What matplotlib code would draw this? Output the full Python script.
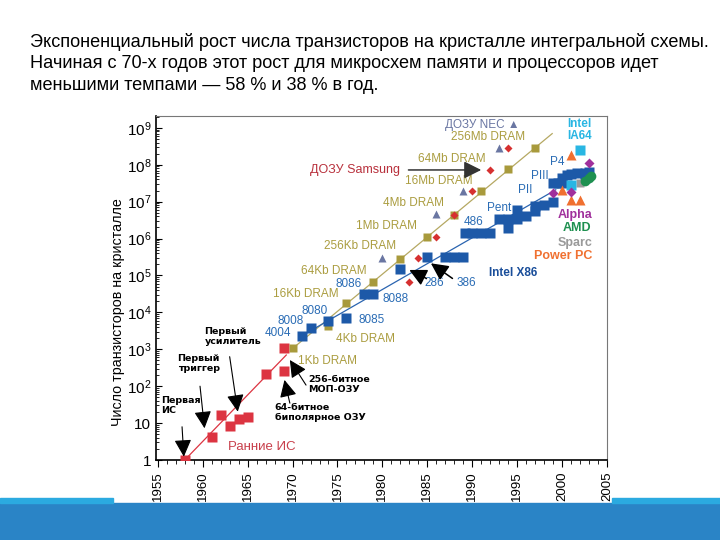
import math

import matplotlib
matplotlib.use("Agg")
import matplotlib.pyplot as plt
from matplotlib.patches import Rectangle
from matplotlib.ticker import FixedLocator, FuncFormatter, LogLocator, NullFormatter

plt.rcParams["font.family"] = ["Liberation Sans", "DejaVu Sans"]
plt.rcParams["mathtext.fontset"] = "custom"
plt.rcParams["mathtext.rm"] = "Liberation Sans"
plt.rcParams["mathtext.it"] = "Liberation Sans:italic"
plt.rcParams["mathtext.bf"] = "Liberation Sans:bold"

TITLE = ("Экспоненциальный рост числа транзисторов на кристалле интегральной схемы.\n"
         "Начиная с 70-х годов этот рост для микросхем памяти и процессоров идет\n"
         "меньшими темпами — 58 % и 38 % в год.")

# early integrated circuits
early_years = [1958, 1961, 1962, 1963, 1964, 1965, 1967, 1969, 1969]
early_counts = [1, 4.3, 16.6, 8.3, 12.9, 14.4, 214, 1100, 263]
early_trend_years = [1958, 1969.3]
early_trend_counts = [1, 700]

# DRAM generations
dram_years = [1970, 1974, 1976, 1979, 1982, 1985, 1988, 1991, 1994, 1997]
dram_counts = [1.07e3, 4.3e3, 1.8e4, 6.8e4, 2.75e5, 1.1e6, 4.4e6, 1.9e7, 7.6e7, 2.8e8]
dram_trend_years = [1970, 1998.9]
dram_trend_counts = [1.05e3, 7.0e8]

# Samsung / NEC DRAM
samsung_years = [1983, 1984, 1986, 1988, 1990, 1992, 1994]
samsung_counts = [6.8e4, 3.0e5, 1.1e6, 4.4e6, 1.9e7, 7.2e7, 2.8e8]
nec_years = [1980, 1986, 1989, 1993]
nec_counts = [3.0e5, 4.7e6, 1.9e7, 2.8e8]

# Intel x86
x86_years = [1971, 1972, 1974, 1976, 1978, 1979, 1982, 1985, 1987, 1988, 1989,
             1989.2, 1990, 1991, 1992,
             1993, 1994, 1994, 1995, 1995, 1996, 1997, 1997, 1998, 1999,
             1999, 1999.6, 2000, 2000.5, 2001, 2001.7, 2002.5, 2003, 2002.5, 2000]
x86_counts = [2.3e3, 3.8e3, 6.0e3, 7.1e3, 3.2e4, 3.2e4, 1.5e5, 3.2e5, 3.2e5, 3.2e5, 3.2e5,
              1.4e6, 1.4e6, 1.4e6, 1.4e6,
              3.5e6, 3.5e6, 1.9e6, 6.0e6, 3.5e6, 4.2e6, 7.5e6, 5.5e6, 8.1e6, 1.0e7,
              3.2e7, 3.2e7, 4.4e7, 5.2e7, 5.5e7, 5.9e7, 5.9e7, 6.5e7, 4.3e7, 3.2e7]
x86_trend_years = [1971, 1999.3]
x86_trend_counts = [2.3e3, 2.1e7]

# other processors
alpha_years = [1999, 2001, 2003]
alpha_counts = [1.7e7, 1.8e7, 1.1e8]
ia64_years = [2001, 2002]
ia64_counts = [2.8e7, 2.5e8]
ppc_years = [2000, 2001, 2001, 2002]
ppc_counts = [2.1e7, 1.9e8, 1.1e7, 1.1e7]
amd_years = [2002.5, 2003, 2003.2]
amd_counts = [3.7e7, 4.4e7, 5.0e7]
sparc_years = [2002]
sparc_counts = [3.2e7]

RED = "#dc3441"
OLIVE = "#a89a3c"
BLUE = "#1d59a8"
LBLUE = "#2a6cb5"
DRED = "#b8303c"
SLATE = "#6a76a2"

fig = plt.figure(figsize=(7.2, 5.4), dpi=100)
fig.text(30 / 720, 1 - 33 / 540, TITLE, fontsize=13.05, va="top", ha="left",
         linespacing=1.33)

ax = fig.add_axes([156 / 720, 80 / 540, 451 / 720, 344 / 540])
ax.set_yscale("log")
ax.set_xlim(1954.8, 2005)
ax.set_ylim(1, 2.1e9)

ax.plot(early_trend_years, early_trend_counts, color=RED, lw=0.9, zorder=2)
ax.plot(dram_trend_years, dram_trend_counts, color="#b5a862", lw=0.9, zorder=2)
ax.plot(x86_trend_years, x86_trend_counts, color="#2a64b0", lw=0.9, zorder=2)

ax.plot(early_years, early_counts, "s", color=RED, ms=6.5, mec="none", zorder=3)
ax.plot(dram_years, dram_counts, "s", color=OLIVE, ms=6, mec="none", zorder=3)
ax.plot(x86_years, x86_counts, "s", color=BLUE, ms=7, mec="none", zorder=3)
ax.plot(samsung_years, samsung_counts, "D", color="#d63030", ms=4.5, mec="none", zorder=4)
ax.plot(nec_years, nec_counts, "^", color=SLATE, ms=6, mec="none", zorder=4)
ax.plot(sparc_years, sparc_counts, "s", color="#9a9a9a", ms=6, mec="none", zorder=4)
ax.plot(amd_years, amd_counts, "o", color="#1e9050", ms=7, mec="none", zorder=4)
ax.plot(ia64_years, ia64_counts, "s", color="#29b6e3", ms=6.5, mec="none", zorder=4)
ax.plot(ppc_years, ppc_counts, "^", color="#f07030", ms=6.5, mec="none", zorder=4)
ax.plot(alpha_years, alpha_counts, "D", color="#a0309c", ms=5, mec="none", zorder=5)

ARROW = "-|>,head_length=0.7,head_width=0.35"

# DRAM labels
dram_kw = dict(color="#ab9d40", fontsize=8.5, va="center")
ax.text(1970.6, 10**2.68, "1Kb DRAM", ha="left", **dram_kw)
ax.text(1974.8, 10**3.27, "4Kb DRAM", ha="left", **dram_kw)
ax.text(1975.1, 10**4.5, "16Kb DRAM", ha="right", **dram_kw)
ax.text(1978.2, 10**5.13, "64Kb DRAM", ha="right", **dram_kw)
ax.text(1981.5, 10**5.8, "256Kb DRAM", ha="right", **dram_kw)
ax.text(1983.9, 10**6.35, "1Mb DRAM", ha="right", **dram_kw)
ax.text(1986.9, 10**6.96, "4Mb DRAM", ha="right", **dram_kw)
ax.text(1990.0, 10**7.57, "16Mb DRAM", ha="right", **dram_kw)
ax.text(1991.5, 10**8.15, "64Mb DRAM", ha="right", **dram_kw)
ax.text(1995.9, 10**8.75, "256Mb DRAM", ha="right", **dram_kw)
ax.text(1995.3, 10**9.08, "ДОЗУ NEC ▲", ha="right", va="center", color=SLATE, fontsize=8.5)
ax.text(1971.9, 10**7.86, "ДОЗУ Samsung", ha="left", va="center", color=DRED, fontsize=9)
ax.annotate("", xy=(1991.0, 10**7.86), xytext=(1982.9, 10**7.86),
            arrowprops=dict(arrowstyle=ARROW, color="#333333", lw=1.1,
                            mutation_scale=15, shrinkA=0, shrinkB=0))

# processor labels
cpu_kw = dict(color=LBLUE, fontsize=8.5, va="center")
ax.text(1969.8, 10**3.43, "4004", ha="right", **cpu_kw)
ax.text(1971.3, 10**3.78, "8008", ha="right", **cpu_kw)
ax.text(1972.5, 10**4.05, "8080", ha="center", **cpu_kw)
ax.text(1977.3, 10**3.79, "8085", ha="left", **cpu_kw)
ax.text(1977.7, 10**4.78, "8086", ha="right", **cpu_kw)
ax.text(1980.0, 10**4.36, "8088", ha="left", **cpu_kw)
ax.text(1984.7, 10**4.8, "286", ha="left", **cpu_kw)
ax.text(1988.2, 10**4.8, "386", ha="left", **cpu_kw)
ax.text(1989.1, 10**6.46, "486", ha="left", **cpu_kw)
ax.text(1991.6, 10**6.82, "Pent", ha="left", **cpu_kw)
ax.text(1995.1, 10**7.32, "PII", ha="left", **cpu_kw)
ax.text(1996.5, 10**7.7, "PIII", ha="left", **cpu_kw)
ax.text(1998.6, 10**8.08, "P4", ha="left", **cpu_kw)
ax.text(1991.9, 10**5.06, "Intel X86", ha="left", va="center", color="#1a4e9a",
        fontsize=8.5, fontweight="bold")
ax.text(2000.6, 10**9.26, "Intel\nIA64", ha="left", va="top", color="#29b6e3",
        fontsize=8.5, fontweight="bold", linespacing=0.95)
ax.text(2003.4, 10**6.64, "Alpha", ha="right", va="center", color="#a0309c",
        fontsize=9, fontweight="bold")
ax.text(2003.2, 10**6.28, "AMD", ha="right", va="center", color="#1e9050",
        fontsize=9, fontweight="bold")
ax.text(2003.4, 10**5.89, "Sparc", ha="right", va="center", color="#9a9a9a",
        fontsize=9, fontweight="bold")
ax.text(2003.4, 10**5.53, "Power PC", ha="right", va="center", color="#f07030",
        fontsize=9, fontweight="bold")

for tail, head in [((1984.9, 10**4.92), (1983.0, 10**5.15)),
                   ((1987.8, 10**4.92), (1985.4, 10**5.33))]:
    ax.annotate("", xy=head, xytext=tail,
                arrowprops=dict(arrowstyle=ARROW, color="black", lw=1.1,
                                mutation_scale=15, shrinkA=0, shrinkB=0))

# early IC annotations
note_kw = dict(fontsize=6.8, fontweight="bold", family="DejaVu Sans", va="top",
               ha="left", color="black", linespacing=1.15)
ax.text(1955.4, 10**1.73, "Первая\nИС", **note_kw)
ax.text(1957.2, 10**2.87, "Первый\nтриггер", **note_kw)
ax.text(1960.2, 10**3.6, "Первый\nусилитель", **note_kw)
ax.text(1971.7, 10**2.3, "256-битное\nМОП-ОЗУ", **note_kw)
ax.text(1968.0, 10**1.54, "64-битное\nбиполярное ОЗУ", **note_kw)
ax.text(1962.8, 10**0.36, "Ранние ИС", ha="left", va="center", color="#c8404c", fontsize=9.5)

for tail, head in [((1957.7, 10**0.9), (1957.9, 10**0.09)),
                   ((1959.7, 10**2.0), (1960.2, 10**0.86)),
                   ((1963.0, 10**2.8), (1963.9, 10**1.31)),
                   ((1971.5, 10**2.03), (1969.7, 10**2.71)),
                   ((1969.7, 10**1.54), (1969.1, 10**2.17))]:
    ax.annotate("", xy=head, xytext=tail,
                arrowprops=dict(arrowstyle=ARROW, color="black", lw=0.8,
                                mutation_scale=15, shrinkA=0, shrinkB=0))

# axes styling
ax.xaxis.set_major_locator(FixedLocator(list(range(1955, 2006, 5))))
ax.xaxis.set_minor_locator(FixedLocator(list(range(1955, 2006))))
ax.tick_params(axis="x", which="major", direction="out", length=5, labelsize=9.5,
               labelrotation=90)
ax.tick_params(axis="x", which="minor", direction="out", length=3)
ax.yaxis.set_major_locator(LogLocator(base=10, numticks=12))
ax.yaxis.set_minor_locator(LogLocator(base=10, subs=range(2, 10), numticks=12))
ax.yaxis.set_minor_formatter(NullFormatter())


def ylab(v, pos):
    if v < 5:
        return "1"
    if v < 50:
        return "10"
    return r"$10^{%d}$" % round(math.log10(v))


ax.yaxis.set_major_formatter(FuncFormatter(ylab))
ax.tick_params(axis="y", which="major", direction="in", length=4, labelsize=11)
ax.tick_params(axis="y", which="minor", direction="in", length=2)
for side in ["top", "right"]:
    ax.spines[side].set_color("#777777")
    ax.spines[side].set_linewidth(0.8)
for side in ["left", "bottom"]:
    ax.spines[side].set_linewidth(1.2)

fig.text(118 / 720, 1 - 312 / 540, "Число транзисторов на кристалле", rotation=90,
         ha="center", va="center", fontsize=10.3)

# slide footer band
fig.add_artist(Rectangle((0, 0), 1, 37 / 540, transform=fig.transFigure,
                         color="#2a84c6", zorder=10))
fig.add_artist(Rectangle((0, 37 / 540), 113 / 720, 5 / 540, transform=fig.transFigure,
                         color="#2baae0", zorder=10))
fig.add_artist(Rectangle((612 / 720, 37 / 540), 108 / 720, 5 / 540,
                         transform=fig.transFigure, color="#2baae0", zorder=10))

fig.savefig("out.png", dpi=100)
